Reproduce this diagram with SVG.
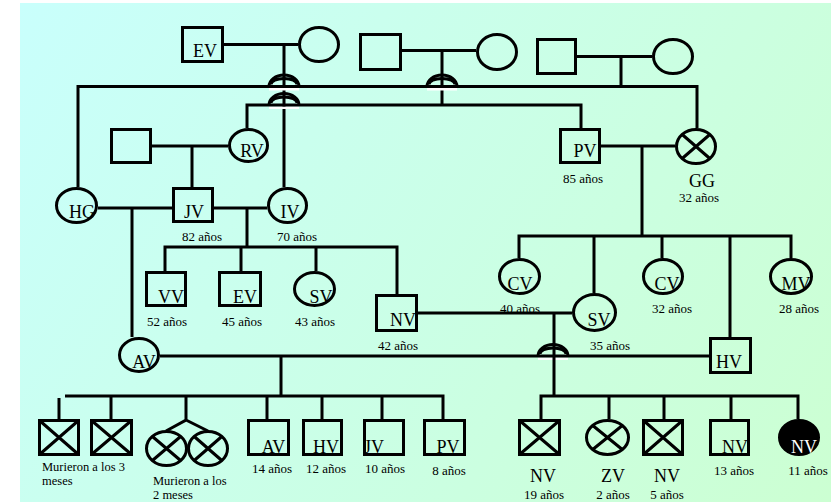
<svg xmlns="http://www.w3.org/2000/svg" width="831" height="502" viewBox="0 0 831 502">
<defs>
<linearGradient id="bg" gradientUnits="userSpaceOnUse" x1="20" y1="3" x2="831" y2="502">
<stop offset="0" stop-color="#C9FFFC"/>
<stop offset="1" stop-color="#CCFFD2"/>
</linearGradient>
<style>
.ln{fill:none;stroke:#000;stroke-width:3}
.nd{fill:none;stroke:#000;stroke-width:3}
.jw{fill:#fff;stroke:none}
text{font-family:"Liberation Serif","Times New Roman",serif;fill:#000}
.lb{font-size:18px;text-anchor:middle}
.ag{font-size:13px;text-anchor:middle}
.nt{font-size:12.5px}
</style>
</defs>
<rect x="0" y="0" width="831" height="502" fill="#fff"/>
<rect x="20" y="3" width="811" height="499" fill="url(#bg)"/>

<g id="connectors">
<path class="ln" d="M224,44.5 H298 M284,44.5 V187"/>
<path class="ln" d="M402,50.5 H476 M442,50.5 V105"/>
<path class="ln" d="M577,56.5 H652 M621,56.5 V86.5"/>
<path class="ln" d="M78,187 V86.5 H269 M299,86.5 H427 M457,86.5 H697 V128"/>
<path class="ln" d="M247,128 V105 H269 M299,105 H581 V128"/>
<g id="jumps">
<rect class="jw" x="269" y="88" width="30" height="2.5"/>
<rect class="jw" x="427" y="88" width="30" height="2.5"/>
<rect class="jw" x="269" y="106.5" width="30" height="2.5"/>
<rect class="jw" x="538" y="357.5" width="30" height="2.5"/>
<path class="ln" d="M269,86.5 A15,11.5 0 0 1 299,86.5 M271,84.5 A13,6 0 0 1 297,84.5 M269,86.5 H299"/>
<path class="ln" d="M427,86.5 A15,11.5 0 0 1 457,86.5 M429,84.5 A13,6 0 0 1 455,84.5 M427,86.5 H457"/>
<path class="ln" d="M269,105 A15,11.5 0 0 1 299,105 M271,103 A13,6 0 0 1 297,103 M269,105 H299"/>
<path class="ln" d="M538,356 A15,11.5 0 0 1 568,356 M540,354 A13,6 0 0 1 566,354 M538,356 H568"/>
</g>
<path class="ln" d="M152,146 H228 M192,146 V187"/>
<path class="ln" d="M601,146 H675 M642,146 V236"/>
<path class="ln" d="M98,208 H172 M132,208 V337"/>
<path class="ln" d="M214,208 H267 M247,208 V247"/>
<path class="ln" d="M165,271 V247 H397 V294 M241,247 V271 M316,247 V271"/>
<path class="ln" d="M519,258 V236 H791 V258 M594,236 V293 M662,236 V258 M730,236 V337"/>
<path class="ln" d="M418,313 H572 M554,313 V396"/>
<path class="ln" d="M160,356 H538 M568,356 H709 M281,356 V396"/>
<path class="ln" d="M59,398 V419 M65,396 H443 V419 M111,396 V419 M186,396 V420 L166,431 M186,420 L208,431 M267,396 V419 M322,396 V419 M382,396 V419"/>
<path class="ln" d="M541,419 V396 H798 V419 M609,396 V419 M664,396 V419 M731,396 V419"/>
</g>

<g id="n-ev1"><rect class="nd" x="182.5" y="27.5" width="40" height="34"/><text class="lb" x="205" y="57">EV</text></g>
<g id="n-c1"><ellipse class="nd" cx="319" cy="44.5" rx="19.5" ry="17"/></g>
<g id="n-s2"><rect class="nd" x="360.5" y="34.5" width="40" height="35"/></g>
<g id="n-c2"><ellipse class="nd" cx="497" cy="52" rx="19.5" ry="17.5"/></g>
<g id="n-s3"><rect class="nd" x="537.5" y="39.5" width="38" height="34"/></g>
<g id="n-c3"><ellipse class="nd" cx="673" cy="56.5" rx="19.5" ry="17"/></g>

<g id="n-s4"><rect class="nd" x="111.5" y="129.5" width="39" height="33"/></g>
<g id="n-rv"><ellipse class="nd" cx="248.5" cy="145.5" rx="19" ry="16"/><text class="lb" x="252" y="157">RV</text></g>
<g id="n-pv1"><rect class="nd" x="560.5" y="129.5" width="39" height="33"/><text class="lb" x="585" y="157">PV</text><text class="ag" x="583" y="183">85 años</text></g>
<g id="n-gg"><ellipse class="nd" cx="696" cy="146.5" rx="19.5" ry="17"/><path class="ln" d="M682.2,134.5 L709.8,158.5 M682.2,158.5 L709.8,134.5"/><text class="lb" x="702" y="187">GG</text><text class="ag" x="699" y="202">32 años</text></g>

<g id="n-hg"><ellipse class="nd" cx="76.5" cy="205.5" rx="20" ry="17"/><text class="lb" x="82" y="218">HG</text></g>
<g id="n-jv1"><rect class="nd" x="173.5" y="188.5" width="39" height="33"/><text class="lb" x="194" y="218">JV</text><text class="ag" x="202" y="241">82 años</text></g>
<g id="n-iv"><ellipse class="nd" cx="287.5" cy="205.5" rx="19" ry="17"/><text class="lb" x="290" y="218">IV</text><text class="ag" x="297" y="241">70 años</text></g>

<g id="n-vv"><rect class="nd" x="146.5" y="272.5" width="39" height="33"/><text class="lb" x="171" y="303">VV</text><text class="ag" x="167" y="326">52 años</text></g>
<g id="n-ev2"><rect class="nd" x="219.5" y="272.5" width="41" height="33"/><text class="lb" x="245" y="303">EV</text><text class="ag" x="242" y="326">45 años</text></g>
<g id="n-sv1"><ellipse class="nd" cx="314.5" cy="289" rx="20" ry="16.5"/><text class="lb" x="321" y="303">SV</text><text class="ag" x="315" y="326">43 años</text></g>
<g id="n-nv1"><rect class="nd" x="376.5" y="295.5" width="40" height="35"/><text class="lb" x="403" y="326">NV</text><text class="ag" x="398" y="350">42 años</text></g>
<g id="n-cv1"><ellipse class="nd" cx="519.5" cy="276.5" rx="20" ry="17"/><text class="lb" x="520" y="290">CV</text><text class="ag" x="520" y="313">40 años</text></g>
<g id="n-sv2"><ellipse class="nd" cx="594.5" cy="312.5" rx="21" ry="18"/><text class="lb" x="599" y="326">SV</text><text class="ag" x="610" y="350">35 años</text></g>
<g id="n-cv2"><ellipse class="nd" cx="663" cy="276.5" rx="19.5" ry="17"/><text class="lb" x="667" y="290">CV</text><text class="ag" x="672" y="313">32 años</text></g>
<g id="n-mv"><ellipse class="nd" cx="791" cy="276.5" rx="20.5" ry="17"/><text class="lb" x="796" y="290">MV</text><text class="ag" x="799" y="313">28 años</text></g>
<g id="n-av1"><ellipse class="nd" cx="139" cy="355" rx="19.5" ry="16.5"/><text class="lb" x="144" y="368">AV</text></g>
<g id="n-hv1"><rect class="nd" x="710.5" y="338.5" width="40" height="34"/><text class="lb" x="729" y="368">HV</text></g>

<g id="n-x1"><rect class="nd" x="39.5" y="420.5" width="39" height="34"/><path class="ln" d="M39.5,420.5 L78.5,454.5 M39.5,454.5 L78.5,420.5"/></g>
<g id="n-x2"><rect class="nd" x="91.5" y="420.5" width="40" height="34"/><path class="ln" d="M91.5,420.5 L131.5,454.5 M91.5,454.5 L131.5,420.5"/></g>
<text class="nt" x="42" y="471">Murieron a los 3</text>
<text class="nt" x="42" y="485">meses</text>
<g id="n-tw1"><ellipse class="nd" cx="166.5" cy="448.5" rx="20" ry="17"/><path class="ln" d="M152.4,436.5 L180.6,460.5 M152.4,460.5 L180.6,436.5"/></g>
<g id="n-tw2"><ellipse class="nd" cx="208" cy="448.5" rx="19.5" ry="17"/><path class="ln" d="M194.2,436.5 L221.8,460.5 M194.2,460.5 L221.8,436.5"/></g>
<text class="nt" x="153" y="485">Murieron a los</text>
<text class="nt" x="153" y="499">2 meses</text>
<g id="n-av2"><rect class="nd" x="248.5" y="420.5" width="40" height="34"/><text class="lb" x="273.5" y="453">AV</text><text class="ag" x="272" y="473">14 años</text></g>
<g id="n-hv2"><rect class="nd" x="303.5" y="420.5" width="38" height="34"/><text class="lb" x="326" y="453">HV</text><text class="ag" x="326" y="473">12 años</text></g>
<g id="n-jv2"><rect class="nd" x="364.5" y="420.5" width="39" height="34"/><text class="lb" x="374" y="453">JV</text><text class="ag" x="385" y="473">10 años</text></g>
<g id="n-pv2"><rect class="nd" x="424.5" y="420.5" width="40" height="34"/><text class="lb" x="448" y="453">PV</text><text class="ag" x="449" y="475">8 años</text></g>
<g id="n-nvx1"><rect class="nd" x="519.5" y="420.5" width="40" height="34"/><path class="ln" d="M519.5,420.5 L559.5,454.5 M519.5,454.5 L559.5,420.5"/><text class="lb" x="543" y="482">NV</text><text class="ag" x="544" y="499">19 años</text></g>
<g id="n-zv"><ellipse class="nd" cx="607.5" cy="437.5" rx="21" ry="17"/><path class="ln" d="M592.7,425.5 L622.3,449.5 M592.7,449.5 L622.3,425.5"/><text class="lb" x="613" y="482">ZV</text><text class="ag" x="613" y="499">2 años</text></g>
<g id="n-nvx2"><rect class="nd" x="643.5" y="420.5" width="39" height="34"/><path class="ln" d="M643.5,420.5 L682.5,454.5 M643.5,454.5 L682.5,420.5"/><text class="lb" x="667" y="482">NV</text><text class="ag" x="667" y="499">5 años</text></g>
<g id="n-nv13"><rect class="nd" x="710.5" y="420.5" width="38" height="34"/><text class="lb" x="735" y="453">NV</text><text class="ag" x="734" y="475">13 años</text></g>
<g id="n-nv11"><ellipse cx="799" cy="437.5" rx="19.5" ry="17" fill="#000" stroke="#000" stroke-width="3"/><text class="lb" x="804" y="453" style="fill:#fff">NV</text><text class="ag" x="808" y="475">11 años</text></g>
</svg>
